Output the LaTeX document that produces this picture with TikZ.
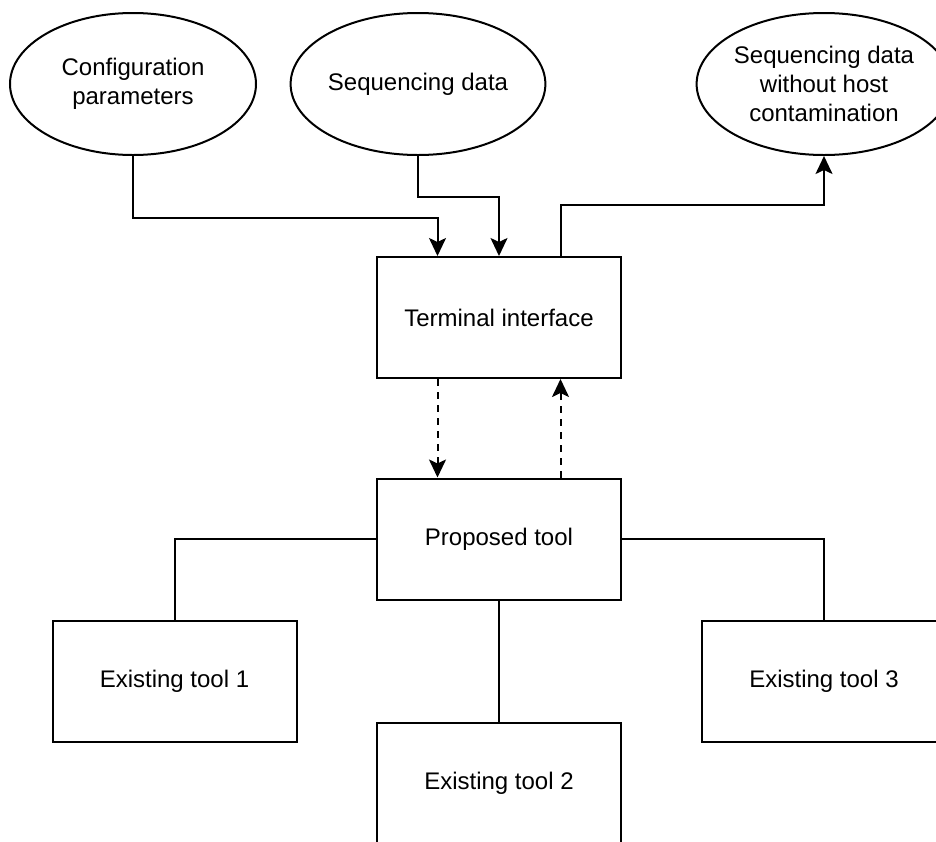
\documentclass[tikz,border=0pt]{standalone}
\usepackage{fontspec}
\setmainfont{Liberation Sans}
\usepackage{tikz}
\usetikzlibrary{shapes.geometric,arrows.meta,calc}

\begin{document}
\begin{tikzpicture}[x=0.5pt,y=-0.5pt,
		caja/.style={draw,line width=1pt,minimum width=122pt,minimum height=60.5pt,inner sep=0pt,align=center,font=\fontsize{12}{14.4}\selectfont},
		elip/.style={ellipse,draw,line width=1pt,minimum width=123pt,minimum height=71pt,inner sep=0pt,align=center,font=\fontsize{12}{14.4}\selectfont},
		linea/.style={line width=1pt},
		flecha/.style={line width=1pt,-{Stealth[length=9pt,width=8.5pt,inset=2pt]}},
		punteada/.style={flecha,dash pattern=on 3.5pt off 3pt}]
	
	% Ventana
	\useasboundingbox (0,0) rectangle (936,841);
	\clip (0,0) rectangle (936,841);
	
	% Entradas y salida
	\node[elip] (config) at (133,84) {Configuration\\parameters};
	\node[elip] (seqdata) at (418,84) {Sequencing data};
	\node[elip] (clean) at (824,84) {Sequencing data\\without host\\contamination};
	
	% Cajas
	\node[caja] (terminal) at (499,317.5) {Terminal interface};
	\node[caja] (proposed) at (499,539) {Proposed tool};
	\node[caja] (tool1) at (174.5,681) {Existing tool 1};
	\node[caja] (tool2) at (499,783) {Existing tool 2};
	\node[caja] (tool3) at (824,681) {Existing tool 3};
	
	% Puntos de entrada en los bordes
	\coordinate (tnA) at ($(terminal.north west)!0.25!(terminal.north east)$);
	\coordinate (tnB) at ($(terminal.north west)!0.75!(terminal.north east)$);
	\coordinate (tsA) at ($(terminal.south west)!0.25!(terminal.south east)$);
	\coordinate (tsB) at ($(terminal.south west)!0.75!(terminal.south east)$);
	\coordinate (pnA) at ($(proposed.north west)!0.25!(proposed.north east)$);
	\coordinate (pnB) at ($(proposed.north west)!0.75!(proposed.north east)$);
	
	% Conexiones
	\draw[flecha] (config.south) -- ++(0,62) -| (tnA);
	\draw[flecha] (seqdata.south) -- ++(0,41) -| (terminal.north);
	\draw[flecha] (tnB) -- ++(0,-51) -| (clean.south);
	\draw[punteada] (tsA) -- (pnA);
	\draw[punteada] (pnB) -- (tsB);
	
	% Herramientas existentes
	\draw[linea] (proposed.west) -| (tool1.north);
	\draw[linea] (proposed.south) -- (tool2.north);
	\draw[linea] (proposed.east) -| (tool3.north);
	
\end{tikzpicture}
\end{document}
